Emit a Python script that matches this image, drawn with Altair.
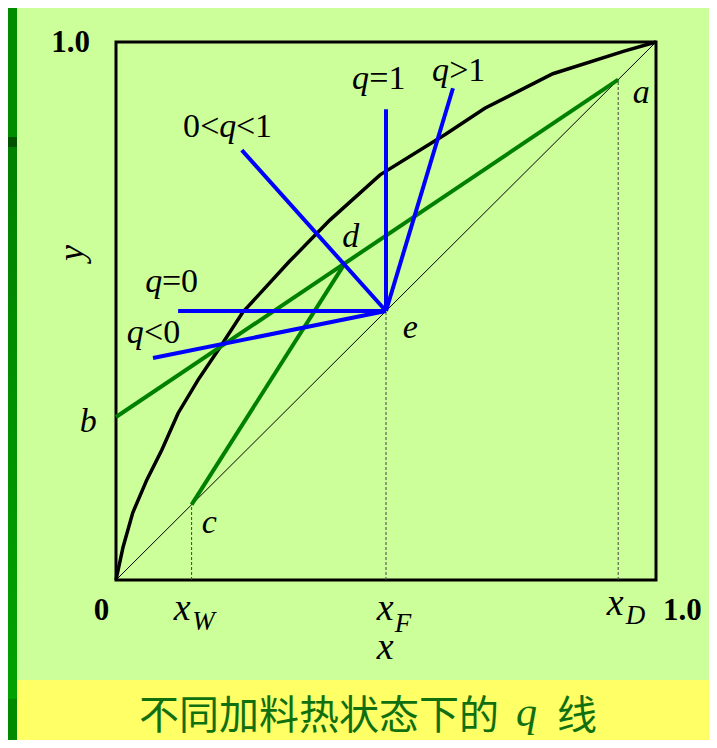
import altair as alt
import pandas as pd

# ---- compositions ----
x_W = 0.14
x_F = 0.50
x_D = 0.93
y_b = 0.303            # intercept of rectifying line at x = 0 (point b)
x_d, y_d = 0.424, 0.589  # intersection d

# equilibrium curve, read point by point
curve_x = [0, 0.013, 0.031, 0.057, 0.085, 0.115, 0.152, 0.193, 0.235, 0.320,
           0.396, 0.489, 0.611, 0.683, 0.809, 0.941, 1.0]
curve_y = [0, 0.061, 0.125, 0.186, 0.242, 0.310, 0.372, 0.433, 0.498, 0.591,
           0.669, 0.753, 0.829, 0.877, 0.941, 0.983, 1.0]

# q-lines: all start at e = (x_F, x_F); free ends
q_names = ["q<0", "q=0", "0<q<1", "q=1", "q>1"]
q_end_x = [0.0685, 0.115, 0.233, 0.50, 0.624]
q_end_y = [0.4126, 0.50, 0.799, 0.875, 0.914]

# text pieces: text, x, y (data units), style
lab_text = ["q", "=1", "q", ">1", "0", "<", "q", "<1", "q", "=0", "q", "<0",
            "a", "b", "c", "d", "e",
            "x", "W", "x", "F", "x", "D", "x",
            "1.0", "0", "1.0"]
lab_x = [0.437, 0.469, 0.585, 0.617, 0.124, 0.156, 0.191, 0.222, 0.054, 0.085, 0.020, 0.052,
         0.957, -0.067, 0.159, 0.419, 0.531,
         0.107, 0.141, 0.483, 0.516, 0.909, 0.944, 0.483,
         -0.120, -0.041, 1.013]
lab_y = [0.913, 0.913, 0.928, 0.928, 0.823, 0.823, 0.823, 0.823, 0.535, 0.535, 0.441, 0.441,
         0.887, 0.275, 0.087, 0.619, 0.450,
         -0.0743, -0.093, -0.0743, -0.0967, -0.065, -0.0818, -0.147,
         0.981, -0.0743, -0.0743]
lab_style = ["it", "up", "it", "up", "up", "up", "it", "up", "it", "up", "it", "up",
             "it", "it", "it", "it", "it",
             "itx", "sub", "itx", "sub", "itx", "sub", "itx",
             "bold", "bold", "bold"]

caption_main = "不同加料热状态下的"
caption_q = "q"
caption_end = "线"

# ---- tables ----
curve_df = pd.DataFrame({"x": curve_x, "y": curve_y, "o": range(len(curve_x))})
diag_df = pd.DataFrame({"x": [0.0], "y": [0.0], "x2": [1.0], "y2": [1.0]})
green_df = pd.DataFrame({"x": [x_D, x_W], "y": [x_D, x_W], "x2": [0.0, x_d], "y2": [y_b, y_d]})
blue_df = pd.DataFrame({"name": q_names, "x": [x_F] * 5, "y": [x_F] * 5,
                        "x2": q_end_x, "y2": q_end_y})
dash_df = pd.DataFrame({"x": [x_W, x_F, x_D], "y": [0.0] * 3, "y2": [x_W, x_F, x_D]})
lab_df = pd.DataFrame({"t": lab_text, "x": lab_x, "y": lab_y, "s": lab_style})
one = pd.DataFrame({"k": [0]})

sx = alt.Scale(domain=[0, 1], nice=False, zero=False)
sy = alt.Scale(domain=[0, 1], nice=False, zero=False)
X = alt.X("x:Q", scale=sx, axis=None)
Y = alt.Y("y:Q", scale=sy, axis=None)

# ---- background decorations ----
stripe_top = alt.Chart(one).mark_rect(color="#008C00").encode(
    x=alt.value(-108), x2=alt.value(-99), y=alt.value(-34), y2=alt.value(95))
stripe_band = alt.Chart(one).mark_rect(color="#005200").encode(
    x=alt.value(-108), x2=alt.value(-99), y=alt.value(95), y2=alt.value(105))
stripe_mid = alt.Chart(one).mark_rect(
    fill=alt.LinearGradient(gradient="linear",
                            stops=[alt.GradientStop(color="#008000", offset=0),
                                   alt.GradientStop(color="#00A200", offset=1)],
                            x1=0, x2=0, y1=0, y2=1)).encode(
    x=alt.value(-108), x2=alt.value(-99), y=alt.value(105), y2=alt.value(657))
stripe_bot = alt.Chart(one).mark_rect(color="#008A00").encode(
    x=alt.value(-108), x2=alt.value(-99), y=alt.value(657), y2=alt.value(698))
yellow = alt.Chart(one).mark_rect(color="#FFFF66").encode(
    x=alt.value(-99), x2=alt.value(593), y=alt.value(638), y2=alt.value(698))

# ---- lines ----
dashes = alt.Chart(dash_df).mark_rule(color="#444444", strokeWidth=1, strokeDash=[3, 2]).encode(
    x=X, y=Y, y2="y2:Q")
diag = alt.Chart(diag_df).mark_rule(color="black", strokeWidth=1).encode(
    x=X, y=Y, x2="x2:Q", y2="y2:Q")
curve = alt.Chart(curve_df).mark_line(color="black", strokeWidth=3.5).encode(
    x=X, y=Y, order="o:Q")
green = alt.Chart(green_df).mark_rule(color="#008000", strokeWidth=4).encode(
    x=X, y=Y, x2="x2:Q", y2="y2:Q")
blue = alt.Chart(blue_df).mark_rule(color="#0000FF", strokeWidth=4).encode(
    x=X, y=Y, x2="x2:Q", y2="y2:Q")

# ---- labels ----
def text_layer(style, **kw):
    return alt.Chart(lab_df).transform_filter(alt.datum.s == style).mark_text(
        align="left", baseline="alphabetic", font="Liberation Serif", color="black", **kw
    ).encode(x=X, y=Y, text="t:N")

t_it = text_layer("it", fontSize=34, fontStyle="italic")
t_itx = text_layer("itx", fontSize=38, fontStyle="italic")
t_up = text_layer("up", fontSize=34)
t_sub = text_layer("sub", fontSize=27, fontStyle="italic")
t_bold = text_layer("bold", fontSize=31, fontWeight="bold")

y_title = alt.Chart(pd.DataFrame({"t": ["y"], "x": [-0.0815], "y": [0.608]})).mark_text(
    angle=270, align="center", baseline="middle", font="Liberation Serif",
    fontStyle="italic", fontSize=36, color="black").encode(x=X, y=Y, text="t:N")

cap1 = alt.Chart(pd.DataFrame({"t": [caption_main]})).mark_text(
    align="left", baseline="alphabetic", font="Noto Sans CJK SC", fontSize=40,
    color="#107010").encode(x=alt.value(23), y=alt.value(687), text="t:N")
cap2 = alt.Chart(pd.DataFrame({"t": [caption_q]})).mark_text(
    align="left", baseline="alphabetic", font="Liberation Serif", fontStyle="italic",
    fontSize=42, color="#107010").encode(x=alt.value(400), y=alt.value(684), text="t:N")
cap3 = alt.Chart(pd.DataFrame({"t": [caption_end]})).mark_text(
    align="left", baseline="alphabetic", font="Noto Sans CJK SC", fontSize=40,
    color="#107010").encode(x=alt.value(441), y=alt.value(687), text="t:N")

chart = alt.layer(
    stripe_top, stripe_band, stripe_mid, stripe_bot, yellow,
    dashes, diag, curve, green, blue,
    t_it, t_itx, t_up, t_sub, t_bold, y_title, cap1, cap2, cap3
).properties(
    width=540, height=538,
    autosize=alt.AutoSizeParams(type="none"),
    padding={"left": 108, "top": 34, "right": 53, "bottom": 160},
).configure(background="#CCFF99").configure_view(stroke="black", strokeWidth=3)

chart.save("out.html", embed_options={"renderer": "svg", "actions": False})
